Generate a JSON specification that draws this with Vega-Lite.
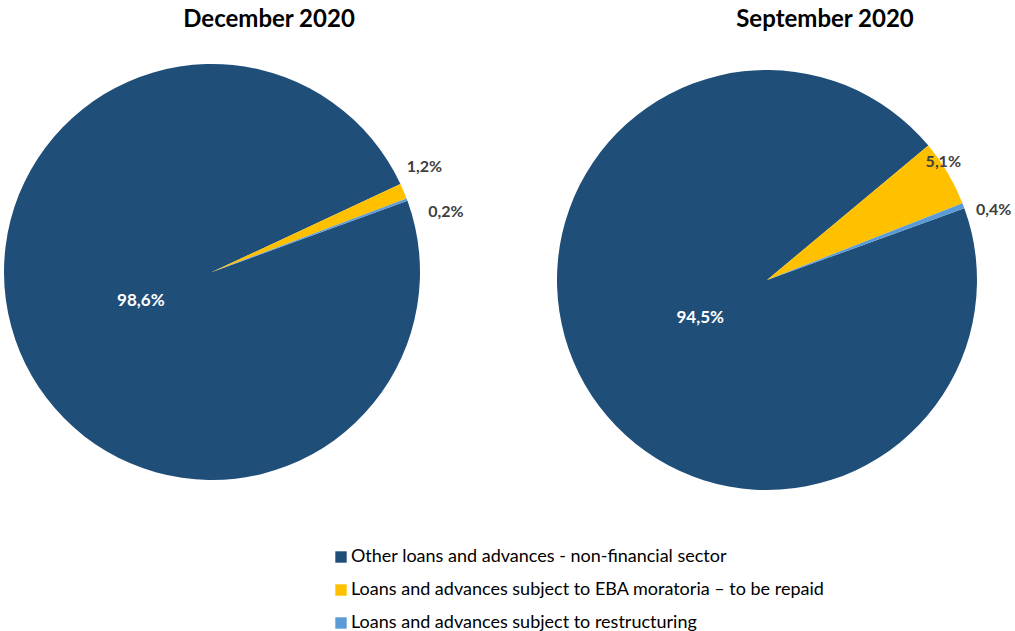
{
  "$schema": "https://vega.github.io/schema/vega-lite/v6.json",
  "background": "white",
  "padding": {"left": 0, "top": 8, "right": 0, "bottom": 0},
  "spacing": 128,
  "bounds": "flush",
  "config": {
    "view": {"stroke": null},
    "font": "Lato",
    "title": {"fontSize": 24, "fontWeight": "bold", "color": "#000000", "anchor": "middle", "offset": 10}
  },
  "datasets": {
    "pies": [
      {"period": "December 2020", "category": "Other loans and advances - non-financial sector", "idx": 1, "value": 98.6, "label": "98,6%"},
      {"period": "December 2020", "category": "Loans and advances subject to EBA moratoria – to be repaid", "idx": 2, "value": 1.2, "label": "1,2%"},
      {"period": "December 2020", "category": "Loans and advances subject to restructuring", "idx": 3, "value": 0.2, "label": "0,2%"},
      {"period": "September 2020", "category": "Other loans and advances - non-financial sector", "idx": 1, "value": 94.5, "label": "94,5%"},
      {"period": "September 2020", "category": "Loans and advances subject to EBA moratoria – to be repaid", "idx": 2, "value": 5.1, "label": "5,1%"},
      {"period": "September 2020", "category": "Loans and advances subject to restructuring", "idx": 3, "value": 0.4, "label": "0,4%"}
    ]
  },
  "hconcat": [
    {
      "width": 424,
      "height": 460,
      "title": {"text": "December 2020", "dx": 57},
      "data": {"name": "pies"},
      "transform": [
        {"filter": "datum.period === 'December 2020'"},
        {"stack": "value", "groupby": ["period"], "sort": [{"field": "idx", "order": "ascending"}], "as": ["v0", "v1"]},
        {"calculate": "(datum.v0 + datum.v1) / 2", "as": "vmid"}
      ],
      "layer": [
        {
          "mark": {"type": "arc", "outerRadius": 208},
          "encoding": {
            "theta": {"field": "v0", "type": "quantitative", "scale": {"domain": [0, 100], "nice": false, "zero": true, "range": [1.2217, 7.5049]}},
            "theta2": {"field": "v1"},
            "color": {
              "field": "category", "type": "nominal",
              "scale": {"domain": ["Other loans and advances - non-financial sector", "Loans and advances subject to EBA moratoria – to be repaid", "Loans and advances subject to restructuring"], "range": ["#1F4E79", "#FFC000", "#5B9BD5"]},
              "legend": {"title": null, "orient": "none", "legendX": 332, "legendY": 506, "symbolType": "square", "symbolSize": 130, "labelFontSize": 18, "labelColor": "#000000", "rowPadding": 15, "labelOffset": 1, "labelLimit": 600}
            }
          }
        },
        {
          "transform": [{"filter": "datum.idx === 1"}],
          "mark": {"type": "text", "radius": 77, "color": "white", "fontWeight": "bold", "fontSize": 17},
          "encoding": {"theta": {"field": "vmid", "type": "quantitative"}, "text": {"field": "label"}}
        },
        {
          "transform": [{"filter": "datum.idx === 2"}],
          "mark": {"type": "text", "radius": 237, "color": "#404040", "fontWeight": "bold", "fontSize": 16, "dx": -6, "dy": -13},
          "encoding": {"theta": {"field": "vmid", "type": "quantitative"}, "text": {"field": "label"}}
        },
        {
          "transform": [{"filter": "datum.idx === 3"}],
          "mark": {"type": "text", "radius": 242, "color": "#404040", "fontWeight": "bold", "fontSize": 16, "dx": 7, "dy": 24},
          "encoding": {"theta": {"field": "vmid", "type": "quantitative"}, "text": {"field": "label"}}
        }
      ]
    },
    {
      "width": 430,
      "height": 476,
      "title": {"text": "September 2020", "dx": 58},
      "data": {"name": "pies"},
      "transform": [
        {"filter": "datum.period === 'September 2020'"},
        {"stack": "value", "groupby": ["period"], "sort": [{"field": "idx", "order": "ascending"}], "as": ["v0", "v1"]},
        {"calculate": "(datum.v0 + datum.v1) / 2", "as": "vmid"}
      ],
      "layer": [
        {
          "mark": {"type": "arc", "outerRadius": 210},
          "encoding": {
            "theta": {"field": "v0", "type": "quantitative", "scale": {"domain": [0, 100], "nice": false, "zero": true, "range": [1.2217, 7.5049]}},
            "theta2": {"field": "v1"},
            "color": {
              "field": "category", "type": "nominal",
              "scale": {"domain": ["Other loans and advances - non-financial sector", "Loans and advances subject to EBA moratoria – to be repaid", "Loans and advances subject to restructuring"], "range": ["#1F4E79", "#FFC000", "#5B9BD5"]},
              "legend": {"title": null, "orient": "none", "legendX": 332, "legendY": 506, "symbolType": "square", "symbolSize": 130, "labelFontSize": 18, "labelColor": "#000000", "rowPadding": 15, "labelOffset": 1, "labelLimit": 600}
            }
          }
        },
        {
          "transform": [{"filter": "datum.idx === 1"}],
          "mark": {"type": "text", "radius": 77, "color": "white", "fontWeight": "bold", "fontSize": 17},
          "encoding": {"theta": {"field": "vmid", "type": "quantitative"}, "text": {"field": "label"}}
        },
        {
          "transform": [{"filter": "datum.idx === 2"}],
          "mark": {"type": "text", "radius": 213, "color": "#404040", "fontWeight": "bold", "fontSize": 16, "dx": -7, "dy": -10},
          "encoding": {"theta": {"field": "vmid", "type": "quantitative"}, "text": {"field": "label"}}
        },
        {
          "transform": [{"filter": "datum.idx === 3"}],
          "mark": {"type": "text", "radius": 237, "color": "#404040", "fontWeight": "bold", "fontSize": 16, "dx": 5, "dy": 14},
          "encoding": {"theta": {"field": "vmid", "type": "quantitative"}, "text": {"field": "label"}}
        }
      ]
    }
  ]
}
